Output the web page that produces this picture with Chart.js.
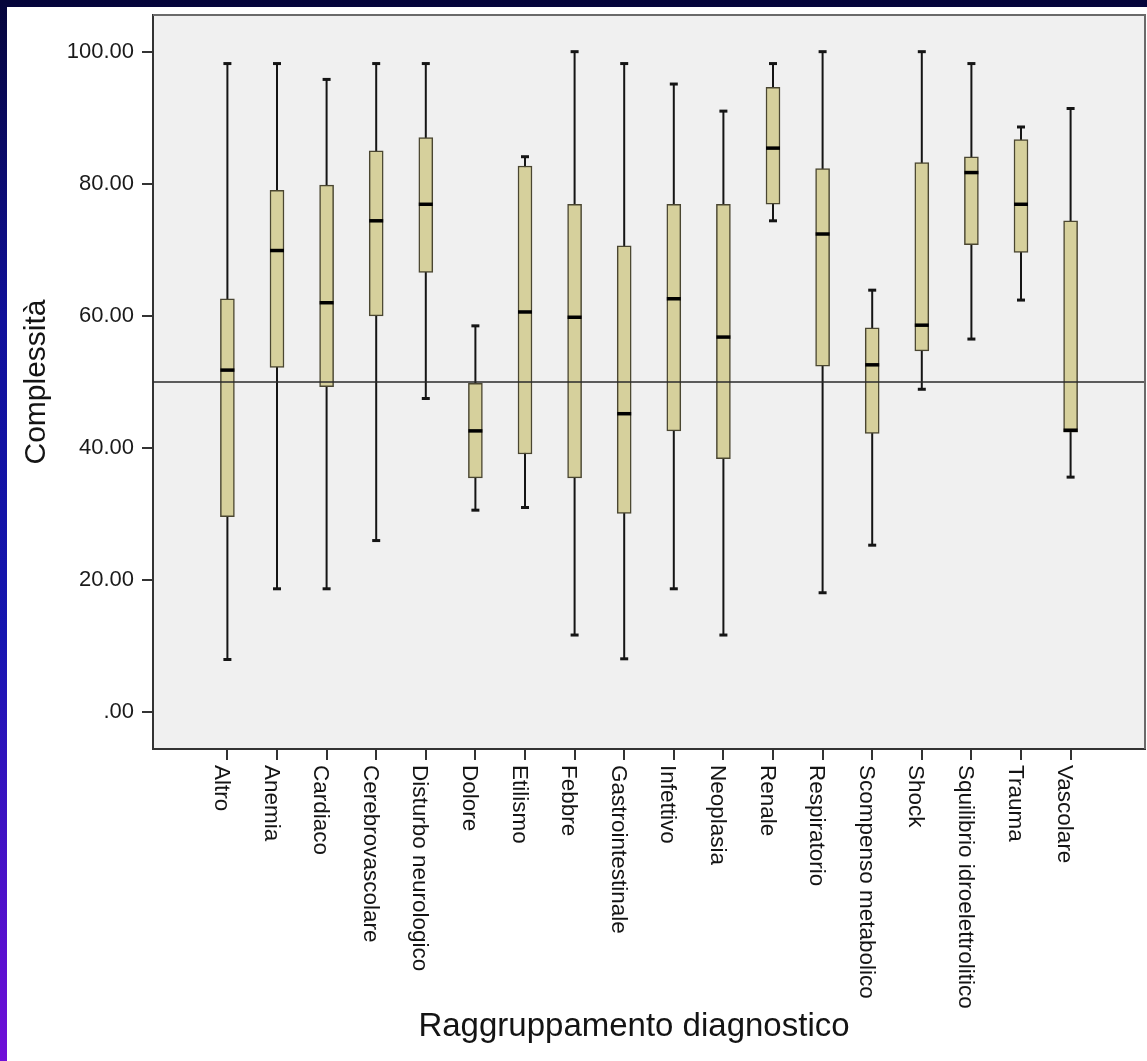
<!DOCTYPE html>
<html>
<head>
<meta charset="utf-8">
<title>Complessità per raggruppamento diagnostico</title>
<script src="https://cdn.jsdelivr.net/npm/chart.js@4/dist/chart.umd.min.js"></script>
<style>
    html, body {
        margin: 0;
        padding: 0;
        width: 1147px;
        height: 1061px;
        overflow: hidden;
        background: linear-gradient(to bottom, #05053a 0%, #10109a 30%, #1515b0 60%, #5a10d0 90%, #7010d8 100%);
    }
    #sheet {
        position: absolute;
        left: 7px;
        top: 7px;
        width: 1140px;
        height: 1054px;
        background: #ffffff;
    }
</style>
</head>
<body>
<div id="sheet">
    <canvas id="boxChart" width="1140" height="1054"></canvas>
</div>
<script>
const categories = [
    'Altro', 'Anemia', 'Cardiaco', 'Cerebrovascolare', 'Disturbo neurologico',
    'Dolore', 'Etilismo', 'Febbre', 'Gastrointestinale', 'Infettivo',
    'Neoplasia', 'Renale', 'Respiratorio', 'Scompenso metabolico', 'Shock',
    'Squilibrio idroelettrolitico', 'Trauma', 'Vascolare'
];

// five-number summaries
const whiskerLow  = [8.0, 18.7, 18.7, 26.0, 47.5, 30.6, 31.0, 11.7, 8.1, 18.7, 11.7, 74.4, 18.1, 25.3, 48.9, 56.5, 62.4, 35.6];
const q1          = [29.6, 52.2, 49.3, 60.0, 66.6, 35.5, 39.1, 35.5, 30.1, 42.6, 38.4, 76.9, 52.4, 42.2, 54.7, 70.8, 69.6, 42.4];
const medians     = [51.8, 69.9, 62.0, 74.4, 76.9, 42.6, 60.6, 59.8, 45.2, 62.6, 56.8, 85.4, 72.4, 52.6, 58.6, 81.7, 76.9, 42.7];
const q3          = [62.6, 79.0, 79.8, 85.0, 87.0, 49.8, 82.7, 76.9, 70.6, 76.9, 76.9, 94.6, 82.3, 58.2, 83.2, 84.1, 86.7, 74.4];
const whiskerHigh = [98.2, 98.2, 95.8, 98.2, 98.2, 58.5, 84.1, 100.0, 98.2, 95.1, 91.0, 98.2, 100.0, 63.9, 100.0, 98.2, 88.6, 91.4];

const yTicks = [0, 20, 40, 60, 80, 100];
const referenceValue = 50;

const xTitle = 'Raggruppamento diagnostico';
const yTitle = 'Complessità';

const FONT = "'Liberation Sans', Arial, sans-serif";

const boxPlotPlugin = {
    id: 'boxPlot',
    beforeDraw(chart) {
        const { ctx, chartArea: a } = chart;
        ctx.save();
        ctx.fillStyle = '#f0f0f0';
        ctx.fillRect(a.left, a.top, a.right - a.left, a.bottom - a.top);
        ctx.restore();
    },
    beforeDatasetsDraw(chart) {
        // whiskers behind the boxes
        const { ctx } = chart;
        const xs = chart.scales.x;
        const ys = chart.scales.y;
        ctx.save();
        ctx.strokeStyle = '#151515';
        categories.forEach((c, i) => {
            const x = xs.getPixelForValue(i);
            const yLo = ys.getPixelForValue(whiskerLow[i]);
            const yHi = ys.getPixelForValue(whiskerHigh[i]);
            ctx.lineWidth = 2;
            ctx.beginPath();
            ctx.moveTo(x, yLo);
            ctx.lineTo(x, yHi);
            ctx.stroke();
            ctx.lineWidth = 3;
            [yLo, yHi].forEach(y => {
                ctx.beginPath();
                ctx.moveTo(x - 4, y);
                ctx.lineTo(x + 4, y);
                ctx.stroke();
            });
        });
        ctx.restore();
    },
    afterDatasetsDraw(chart) {
        const { ctx, chartArea: a } = chart;
        const xs = chart.scales.x;
        const ys = chart.scales.y;
        ctx.save();

        // medians
        ctx.strokeStyle = '#000000';
        ctx.lineWidth = 3.5;
        categories.forEach((c, i) => {
            const x = xs.getPixelForValue(i);
            const y = ys.getPixelForValue(medians[i]);
            ctx.beginPath();
            ctx.moveTo(x - 7, y);
            ctx.lineTo(x + 7, y);
            ctx.stroke();
        });

        // reference line
        const yRef = ys.getPixelForValue(referenceValue);
        ctx.strokeStyle = '#2a2a2a';
        ctx.lineWidth = 1.5;
        ctx.beginPath();
        ctx.moveTo(a.left, yRef);
        ctx.lineTo(a.right, yRef);
        ctx.stroke();

        // top and right frame
        ctx.strokeStyle = '#6a6a6a';
        ctx.lineWidth = 2;
        ctx.beginPath();
        ctx.moveTo(a.left, a.top);
        ctx.lineTo(a.right, a.top);
        ctx.lineTo(a.right, a.bottom);
        ctx.stroke();
        ctx.restore();
    },
    afterDraw(chart) {
        const { ctx, chartArea: a } = chart;
        const xs = chart.scales.x;
        ctx.save();
        ctx.fillStyle = '#141414';

        // category labels, rotated to read downward
        ctx.font = '22.5px ' + FONT;
        ctx.textAlign = 'left';
        ctx.textBaseline = 'alphabetic';
        categories.forEach((c, i) => {
            const x = xs.getPixelForValue(i);
            ctx.save();
            ctx.translate(x - 12.5, a.bottom + 16);
            ctx.rotate(Math.PI / 2);
            ctx.fillText(c, 0, 0);
            ctx.restore();
        });

        // x axis title
        ctx.font = '33px ' + FONT;
        ctx.textAlign = 'center';
        ctx.textBaseline = 'middle';
        ctx.fillText(xTitle, (a.left + a.right) / 2 - 15, a.bottom + 278);
        ctx.restore();
    }
};

const ctx = document.getElementById('boxChart');

new Chart(ctx, {
    type: 'bar',
    data: {
        datasets: [{
            label: yTitle,
            data: categories.map((c, i) => ({ x: i, y: [q1[i], q3[i]] })),
            backgroundColor: '#d6d09c',
            borderColor: '#4a4631',
            borderWidth: 1.5,
            borderSkipped: false,
            barThickness: 14
        }]
    },
    options: {
        responsive: false,
        animation: false,
        events: [],
        devicePixelRatio: 1,
        layout: {
            padding: { top: 8, right: 2, left: 0, bottom: 0 }
        },
        plugins: {
            legend: { display: false },
            tooltip: { enabled: false }
        },
        scales: {
            x: {
                type: 'linear',
                min: -1.5,
                max: 18.5,
                offset: false,
                afterBuildTicks: (scale) => {
                    scale.ticks = categories.map((c, i) => ({ value: i }));
                },
                afterFit: (scale) => {
                    scale.height = 312;
                    scale.paddingLeft = 0;
                    scale.paddingRight = 0;
                },
                ticks: { display: false },
                grid: {
                    offset: false,
                    drawOnChartArea: false,
                    drawTicks: true,
                    tickLength: 11,
                    color: '#333333',
                    lineWidth: 2
                },
                border: { color: '#333333', width: 2 }
            },
            y: {
                min: -5.55,
                max: 105.55,
                afterBuildTicks: (scale) => {
                    scale.ticks = yTicks.map(v => ({ value: v }));
                },
                afterFit: (scale) => {
                    scale.width = 146;
                    scale.paddingTop = 0;
                    scale.paddingBottom = 0;
                },
                ticks: {
                    font: { family: FONT, size: 22 },
                    color: '#1a1a1a',
                    padding: 8,
                    callback: (v) => v === 0 ? '.00' : Number(v).toFixed(2)
                },
                grid: {
                    drawOnChartArea: false,
                    drawTicks: true,
                    tickLength: 11,
                    color: '#333333',
                    lineWidth: 2
                },
                border: { color: '#333333', width: 2 },
                title: {
                    display: true,
                    text: yTitle,
                    font: { family: FONT, size: 30 },
                    color: '#141414',
                    padding: { top: 12, bottom: 0 }
                }
            }
        }
    },
    plugins: [boxPlotPlugin]
});
</script>
</body>
</html>
